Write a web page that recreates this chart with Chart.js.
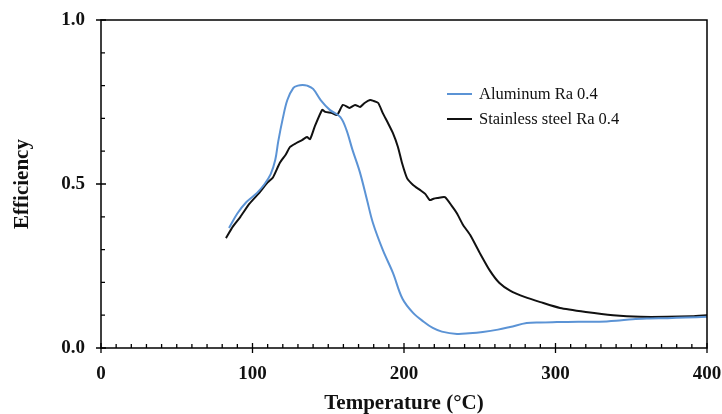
<!DOCTYPE html>
<html>
<head>
<meta charset="utf-8">
<script src="https://cdn.jsdelivr.net/npm/chart.js@4"></script>
<style>
  body { margin: 0; background: #fff; }
</style>
</head>
<body>
<canvas id="effChart" width="722" height="414"></canvas>
<script>
// Aluminum Ra 0.4 (temperature, efficiency)
var alTemp = [84.5, 90, 96, 103, 108, 112, 115, 117, 120, 123, 127, 130, 133, 136, 140, 145, 151, 158, 162, 166,
  171, 175.6, 179.5, 186, 192.7, 199, 206, 213, 219, 225, 235, 243, 252, 262, 270, 281, 290, 301, 315, 329,
  340, 351, 362, 374, 386, 400];
var alEff = [0.366, 0.41, 0.445, 0.473, 0.50, 0.53, 0.573, 0.63, 0.70, 0.756, 0.793, 0.80, 0.802, 0.80, 0.79, 0.756, 0.726, 0.704, 0.665, 0.604,
  0.534, 0.451, 0.381, 0.299, 0.229, 0.15, 0.107, 0.08, 0.061, 0.05, 0.043, 0.045, 0.049, 0.056, 0.064, 0.076, 0.078, 0.079, 0.08, 0.08,
  0.083, 0.088, 0.09, 0.091, 0.093, 0.095];

// Stainless steel Ra 0.4
var ssTemp = [82.5, 87, 92, 98, 105, 110, 113.5, 118, 122, 124.8, 129, 132.7, 136, 138, 141, 146, 148, 152.5, 155.8, 159.7,
  164, 167.7, 171, 174, 177.6, 180, 183, 186, 189.4, 192.7, 196, 198.7, 202, 206, 210.5, 214, 217, 219.5, 222, 227,
  232, 235, 239, 243.6, 250, 256.8, 263, 270, 280, 290, 303, 320, 338, 356, 374, 390, 400];
var ssEff = [0.335, 0.37, 0.40, 0.44, 0.476, 0.505, 0.52, 0.564, 0.59, 0.613, 0.625, 0.634, 0.643, 0.637, 0.674, 0.726, 0.72, 0.716, 0.71, 0.741,
  0.732, 0.741, 0.735, 0.747, 0.756, 0.753, 0.747, 0.716, 0.686, 0.655, 0.613, 0.564, 0.518, 0.497, 0.482, 0.47, 0.451, 0.455, 0.457, 0.46,
  0.43, 0.41, 0.375, 0.345, 0.29, 0.235, 0.198, 0.175, 0.155, 0.14, 0.122, 0.11, 0.10, 0.095, 0.095, 0.097, 0.10];

var seriesNames = ["Aluminum Ra 0.4", "Stainless steel Ra 0.4"];
var seriesColors = ["#5b93d5", "#111111"];

function toPoints(xs, ys) {
  return xs.map(function(x, i) { return { x: x, y: ys[i] }; });
}

var serif = "'Liberation Serif', 'Times New Roman', serif";

// tamaño fijo de los ejes para que el área quede donde en la figura original
function fixBox(size) {
  return function(scale) {
    if (scale.isHorizontal()) scale.height = size; else scale.width = size;
    scale.paddingLeft = 0; scale.paddingRight = 0;
    scale.paddingTop = 0; scale.paddingBottom = 0;
  };
}

// marcas de escala hacia dentro, caja y leyenda
var frameTicks = {
  id: 'frameTicks',
  afterDraw: function(chart) {
    var ctx = chart.ctx;
    var a = chart.chartArea;
    var xs = chart.scales.x, ys = chart.scales.y;
    ctx.save();
    ctx.strokeStyle = '#000';
    ctx.lineWidth = 1.5;
    ctx.beginPath();
    ctx.rect(a.left, a.top, a.right - a.left, a.bottom - a.top);
    ctx.stroke();
    ctx.lineWidth = 1.3;
    ctx.beginPath();
    for (var v = 0; v <= 400; v += 10) {
      var px = xs.getPixelForValue(v);
      if (v % 100 === 0) { ctx.moveTo(px, a.bottom - 5); ctx.lineTo(px, a.bottom + 5); }
      else { ctx.moveTo(px, a.bottom - 4); ctx.lineTo(px, a.bottom); }
    }
    for (var k = 0; k <= 10; k++) {
      var py = ys.getPixelForValue(k / 10);
      if (k % 5 === 0) { ctx.moveTo(a.left - 5, py); ctx.lineTo(a.left + 5, py); }
      else { ctx.moveTo(a.left, py); ctx.lineTo(a.left + 4, py); }
    }
    ctx.stroke();

    // leyenda
    ctx.font = "16.5px " + serif;
    ctx.textBaseline = 'middle';
    ctx.fillStyle = '#111';
    chart.data.datasets.forEach(function(ds, i) {
      var ly = 94 + i * 25;
      ctx.strokeStyle = ds.borderColor;
      ctx.lineWidth = 2;
      ctx.beginPath();
      ctx.moveTo(447, ly);
      ctx.lineTo(472, ly);
      ctx.stroke();
      ctx.fillText(ds.label, 479, ly + 1);
    });
    ctx.restore();
  }
};

var ctx = document.getElementById('effChart').getContext('2d');
var effChart = new Chart(ctx, {
  type: 'scatter',
  data: {
    datasets: [
      {
        label: seriesNames[0],
        data: toPoints(alTemp, alEff),
        borderColor: seriesColors[0],
        borderWidth: 2,
        showLine: true,
        pointRadius: 0,
        tension: 0.35,
        fill: false
      },
      {
        label: seriesNames[1],
        data: toPoints(ssTemp, ssEff),
        borderColor: seriesColors[1],
        borderWidth: 2,
        showLine: true,
        pointRadius: 0,
        tension: 0.2,
        fill: false
      }
    ]
  },
  options: {
    responsive: false,
    animation: false,
    layout: { padding: { top: 20, right: 15, bottom: 0, left: 0 } },
    plugins: {
      legend: { display: false },
      tooltip: { enabled: false }
    },
    scales: {
      x: {
        type: 'linear',
        min: 0,
        max: 400,
        afterFit: fixBox(66),
        grid: { display: false, drawTicks: false },
        border: { display: false },
        ticks: {
          stepSize: 100,
          padding: 15,
          color: '#111',
          font: { family: serif, size: 19, weight: 'bold' }
        },
        title: {
          display: true,
          text: 'Temperature (°C)',
          color: '#111',
          padding: { top: 0, bottom: 0 },
          font: { family: serif, size: 21, weight: 'bold', lineHeight: 1 }
        }
      },
      y: {
        min: 0,
        max: 1,
        afterFit: fixBox(101),
        grid: { display: false, drawTicks: false },
        border: { display: false },
        ticks: {
          stepSize: 0.5,
          padding: 16,
          color: '#111',
          font: { family: serif, size: 19, weight: 'bold' },
          callback: function(v) { return v.toFixed(1); }
        },
        title: {
          display: true,
          text: 'Efficiency',
          color: '#111',
          padding: { top: 12, bottom: 0 },
          font: { family: serif, size: 21, weight: 'bold', lineHeight: 1 }
        }
      }
    }
  },
  plugins: [frameTicks]
});
</script>
</body>
</html>
